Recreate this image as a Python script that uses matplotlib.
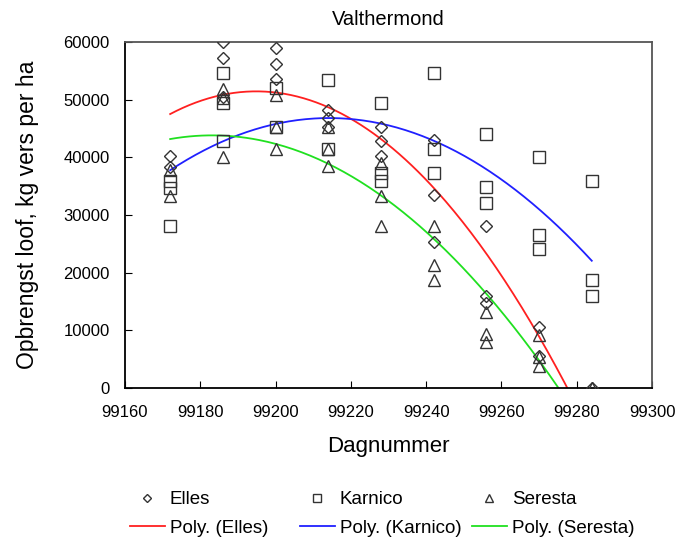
import numpy as np
import matplotlib
matplotlib.use("Agg")
import matplotlib.pyplot as plt
from matplotlib.lines import Line2D

plt.rcParams['font.family'] = ['Liberation Sans', 'DejaVu Sans']

title = "Valthermond"
xlabel = "Dagnummer"
ylabel = "Opbrengst loof, kg vers per ha"

elles_x = [99172, 99172, 99186, 99186, 99186, 99200, 99200, 99200, 99214, 99214, 99214,
           99228, 99228, 99228, 99242, 99242, 99242, 99256, 99256, 99256, 99270, 99270, 99284]
elles_y = [40200, 38400, 60000, 57300, 50500, 58900, 56100, 53500, 48200, 46800, 45300,
           45300, 42800, 40200, 43000, 33500, 25400, 28100, 16000, 14700, 10600, 5500, 0]

karnico_x = [99172, 99172, 99172, 99186, 99186, 99186, 99200, 99200, 99214, 99214,
             99228, 99228, 99228, 99242, 99242, 99242, 99256, 99256, 99256,
             99270, 99270, 99270, 99284, 99284, 99284]
karnico_y = [35900, 34600, 28100, 54700, 49400, 42800, 52100, 45300, 53400, 41400,
             49500, 37300, 35900, 54700, 41400, 37300, 44000, 34800, 32000,
             40100, 26600, 24100, 35900, 18700, 16000]

seresta_x = [99172, 99172, 99186, 99186, 99186, 99200, 99200, 99200, 99214, 99214, 99214,
             99228, 99228, 99228, 99242, 99242, 99242, 99256, 99256, 99256,
             99270, 99270, 99270, 99284]
seresta_y = [37800, 33300, 51800, 50300, 40100, 50800, 45300, 41400, 45300, 41400, 38500,
             39000, 33300, 28100, 28100, 21400, 18700, 13200, 9400, 7900,
             9200, 5400, 3900, 0]

x_ticks = [99160, 99180, 99200, 99220, 99240, 99260, 99280, 99300]
y_ticks = [0, 10000, 20000, 30000, 40000, 50000, 60000]

W, H = 677, 544
fig = plt.figure(figsize=(W/100, H/100), dpi=100)
ax = fig.add_axes([125/W, 1-388/H, (652-125)/W, (388-42)/H])

mk_color = '#333333'
series = [
    ("Elles", elles_x, elles_y, 'D', 6.0, '#ff2020'),
    ("Karnico", karnico_x, karnico_y, 's', 8.0, '#2020ff'),
    ("Seresta", seresta_x, seresta_y, '^', 8.5, '#20e020'),
]

for name, xs, ys, m, ms, lc in series:
    xs = np.array(xs, float); ys = np.array(ys, float)
    ax.plot(xs, ys, linestyle='none', marker=m, markersize=ms, markerfacecolor='none',
            markeredgecolor=mk_color, markeredgewidth=1.0, zorder=3)
    x0 = xs.mean()
    c = np.polyfit(xs - x0, ys, 2)
    xf = np.linspace(xs.min(), xs.max(), 200)
    yf = np.polyval(c, xf - x0)
    ax.plot(xf, yf, color=lc, linewidth=1.3, zorder=2)

ax.set_xlim(99160, 99300)
ax.set_ylim(0, 60000)
ax.set_xticks(x_ticks)
ax.set_yticks(y_ticks)
ax.tick_params(direction='in', length=5, labelsize=12)
ax.tick_params(axis='y', pad=11)
ax.tick_params(axis='x', pad=12)
for s in ['top', 'right']:
    ax.spines[s].set_color('#555555')
for s in ['left', 'bottom']:
    ax.spines[s].set_color('black')
for s in ax.spines.values():
    s.set_linewidth(1.3)

ax.set_title(title, fontsize=14.5, pad=12)
ax.set_xlabel(xlabel, fontsize=16)
ax.set_ylabel(ylabel, fontsize=16.5)
ax.xaxis.set_label_coords(0.5, -(436-388)/346)
ax.yaxis.set_label_coords(-(125-39)/527, 0.5)

# legend: three columns at fixed positions
leg_x = [130, 300, 472]
for (name, xs, ys, m, ms, lc), lx in zip(series, leg_x):
    hm = Line2D([], [], linestyle='none', marker=m, markersize=ms*0.75,
                markerfacecolor='none', markeredgecolor=mk_color, markeredgewidth=1.0)
    hl = Line2D([], [], color=lc, linewidth=1.3)
    fig.legend([hm, hl], [name, f"Poly. ({name})"], loc='center left',
               bbox_to_anchor=(lx/W, 1-514/H), frameon=False, fontsize=13.5,
               handlelength=1.85, handletextpad=0.27, borderpad=0, borderaxespad=0,
               labelspacing=0.62)

fig.savefig("out.png", dpi=100)
